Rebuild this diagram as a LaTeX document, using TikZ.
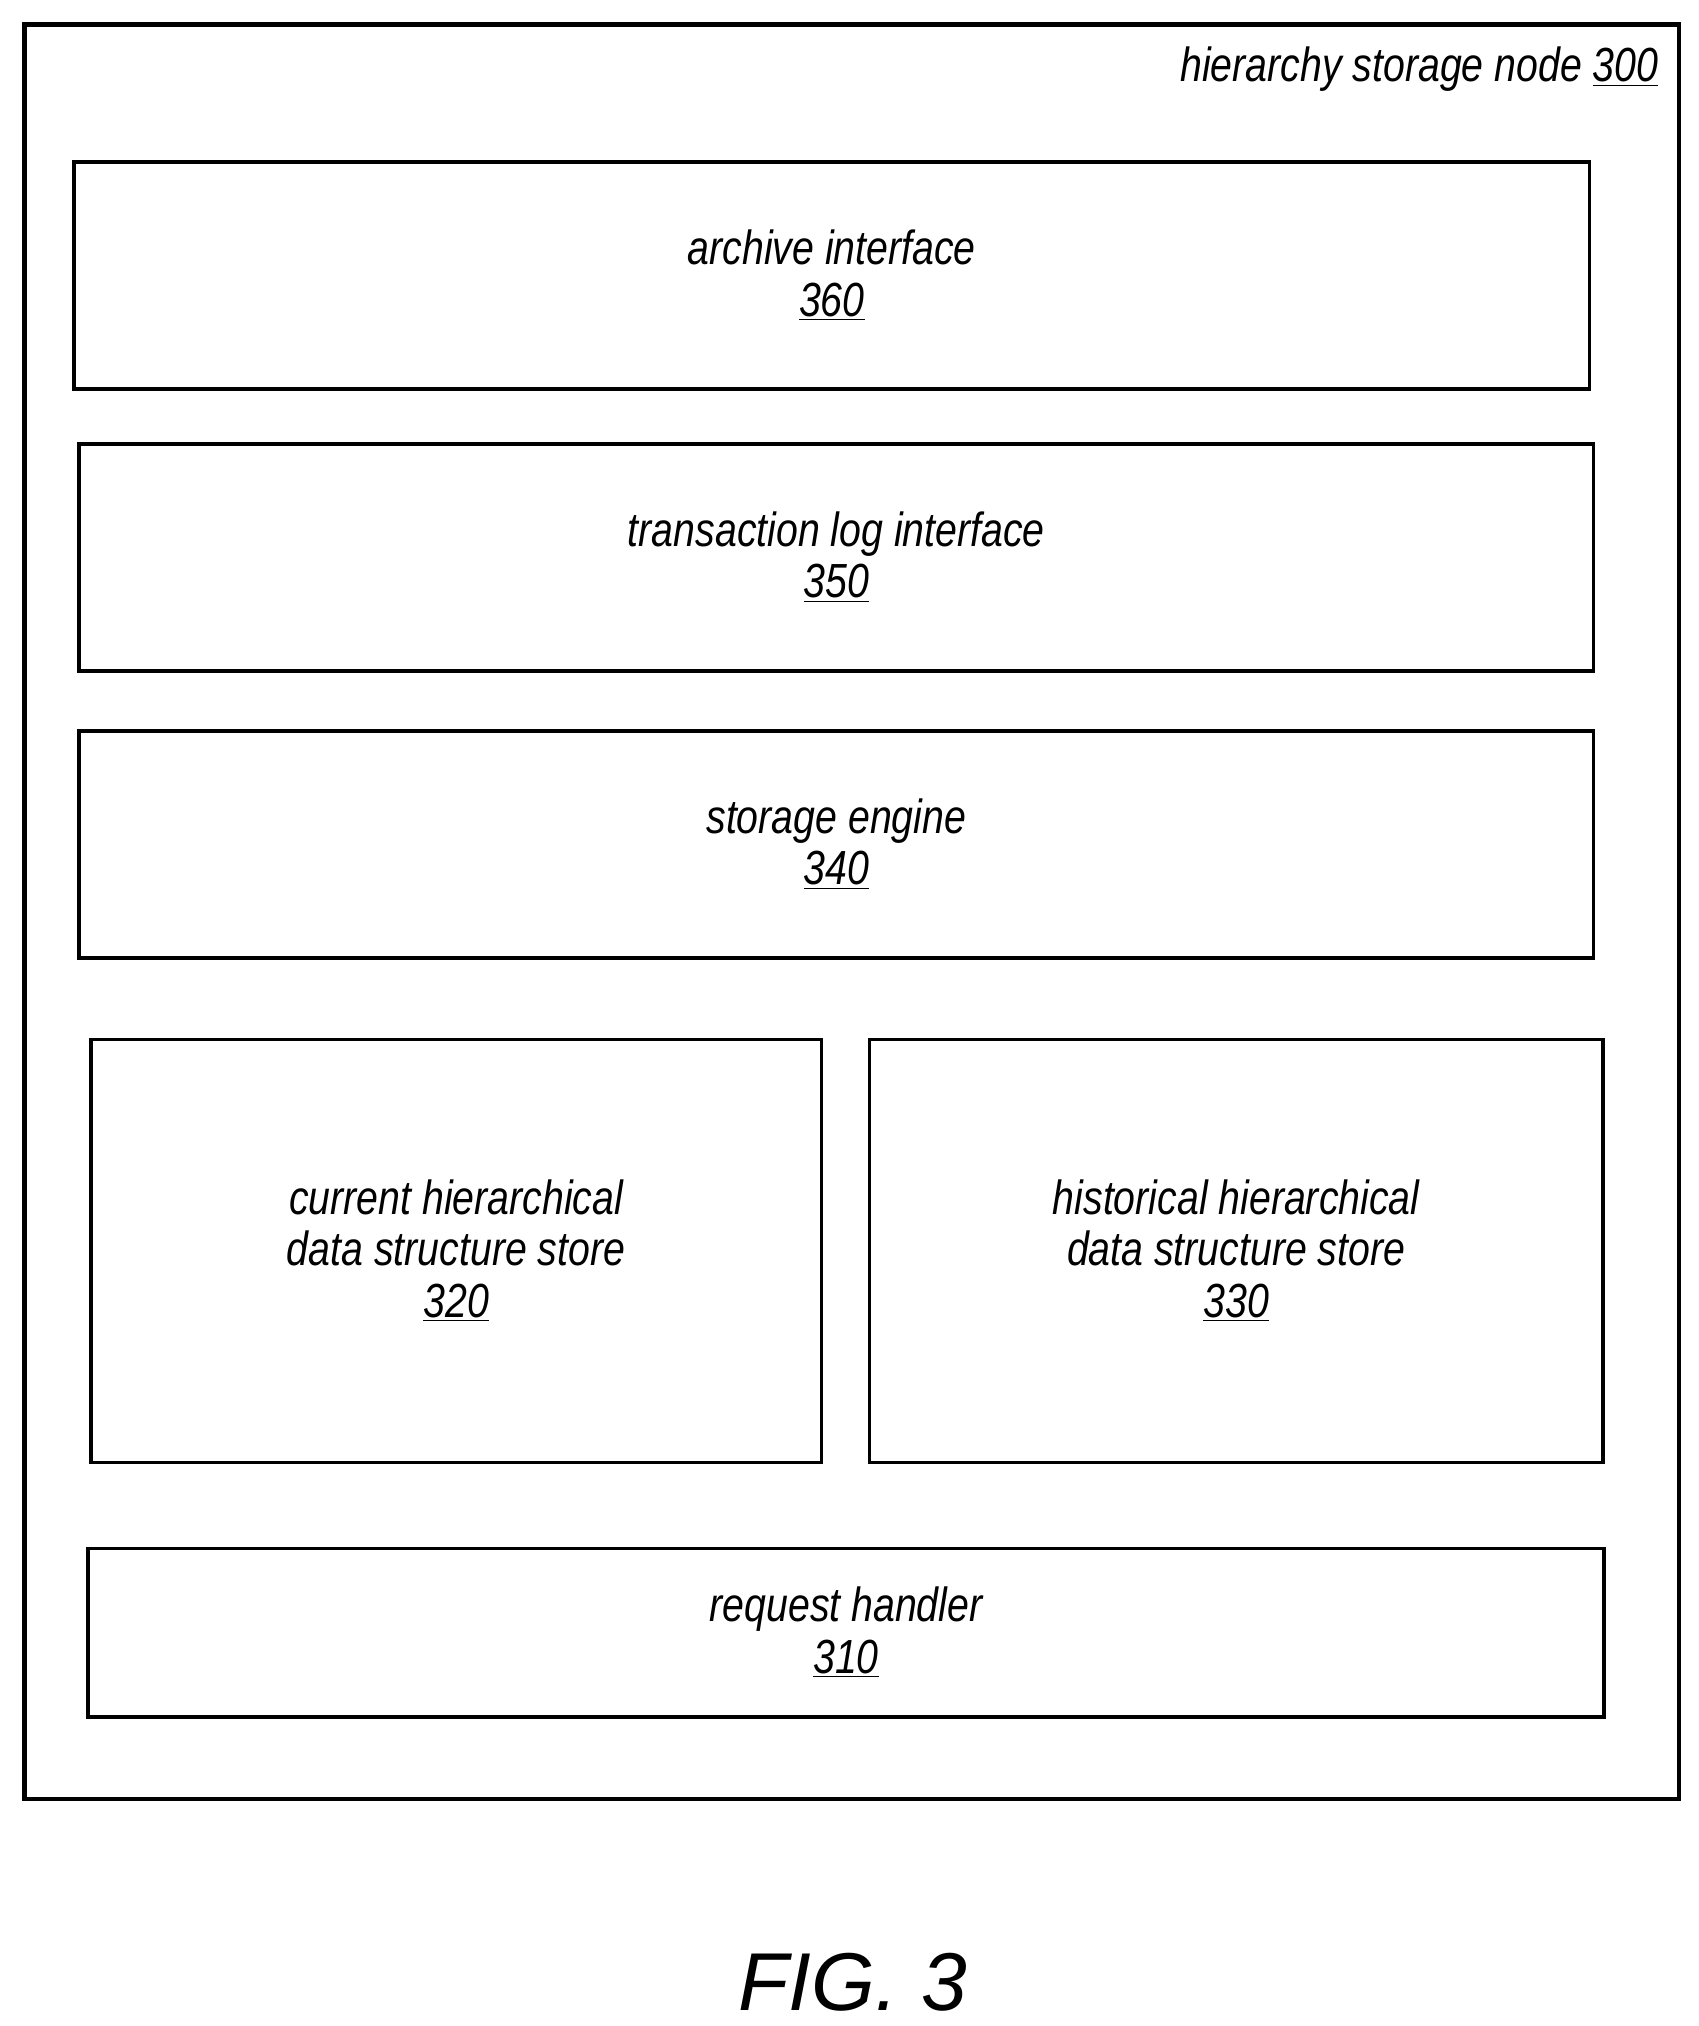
\documentclass[tikz,border=0pt]{standalone}
\usepackage{fontspec}
\setmainfont{Liberation Sans}[FakeStretch=0.82]
\newfontfamily\figfont{Liberation Sans}
\usetikzlibrary{positioning}
\tikzset{
  block/.style = {draw, line width=1.6pt, anchor=north west, align=center,
    font=\itshape\fontsize{21}{22.5}\selectfont, inner sep=0pt, outer sep=0pt},
}
\newcommand{\refnum}[1]{\underline{#1}}
\begin{document}
\begin{tikzpicture}[x=0.02cm, y=-0.02cm]
    \useasboundingbox (0,0) rectangle (1309,1561);
    \node[draw, line width=2pt, anchor=north west, minimum width=25.5cm, minimum height=27.35cm] (node300) at (17,17) {};
    \node[anchor=north east, font=\itshape\fontsize{21}{26}\selectfont] (title) at (1284,30) {hierarchy storage node \refnum{300}};

    \node[block, minimum width=23.36cm, minimum height=3.5cm] (archive) at (57,125) {archive interface\\\refnum{360}};
    \node[block, minimum width=23.34cm, minimum height=3.5cm] (txlog) at (61,342) {transaction log interface\\\refnum{350}};
    \node[block, minimum width=23.34cm, minimum height=3.5cm] (engine) at (61,563) {storage engine\\\refnum{340}};
    \node[block, minimum width=11.26cm, minimum height=6.52cm] (current) at (70,801) {current hierarchical\\data structure store\\\refnum{320}};
    \node[block, minimum width=11.3cm, minimum height=6.52cm] (historical) at (670,801) {historical hierarchical\\data structure store\\\refnum{330}};
    \node[block, minimum width=23.36cm, minimum height=2.6cm] (handler) at (68,1193) {request handler\\\refnum{310}};

    \node[font=\figfont\itshape\fontsize{36}{40}\selectfont] (fig) at (657,1527) {FIG. 3};
\end{tikzpicture}
\end{document}
